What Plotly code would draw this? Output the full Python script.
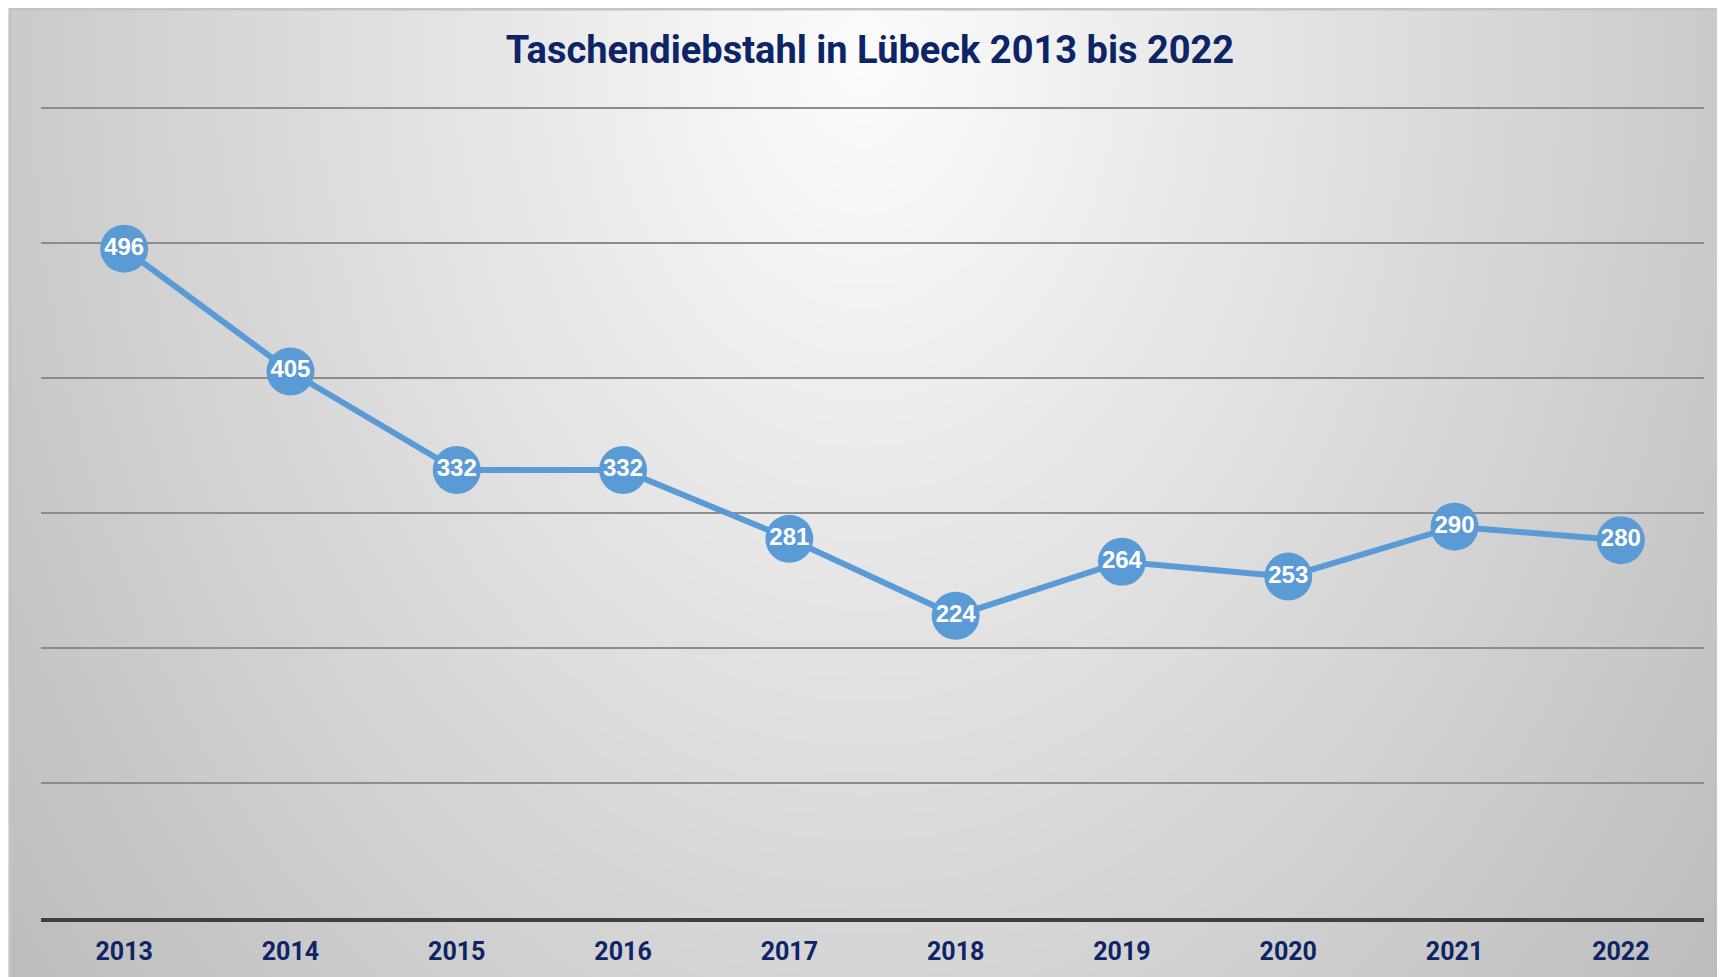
import base64
import struct
import zlib

import numpy as np
import plotly.graph_objects as go

# data
years = ["2013", "2014", "2015", "2016", "2017", "2018", "2019", "2020", "2021", "2022"]
cases = [496, 405, 332, 332, 281, 224, 264, 253, 290, 280]

W, H = 1725, 977
# page body adds an 8px offset, so margins are measured in figure pixels
ML, MR, MT, MB = 33, 29, 99, 67
PANEL_X0, PANEL_Y0 = 2, 1  # panel edge in figure pixels (left, top)

NAVY = "#0d2466"
BLUE = "#5b9bd5"
FONT = "Roboto, Liberation Sans, sans-serif"


def gradient_png(w, h):
    # radial grey gradient, lightest at top centre
    xs = np.linspace(0, W - PANEL_X0, w)
    ys = np.linspace(0, H - PANEL_Y0, h)
    X, Y = np.meshgrid(xs, ys)
    cx, cy = (W - PANEL_X0) / 2 - 8, 45
    r = np.sqrt(((X - cx) * 1.36) ** 2 + (Y - cy) ** 2)
    g = np.clip(253 - 0.043 * r, 180, 253).astype(np.uint8)
    raw = b"".join(b"\x00" + row.tobytes() for row in g)

    def chunk(tag, data):
        c = struct.pack(">I", len(data)) + tag + data
        return c + struct.pack(">I", zlib.crc32(tag + data) & 0xFFFFFFFF)

    png = b"\x89PNG\r\n\x1a\n"
    png += chunk(b"IHDR", struct.pack(">IIBBBBB", w, h, 8, 0, 0, 0, 0))
    png += chunk(b"IDAT", zlib.compress(raw, 9))
    png += chunk(b"IEND", b"")
    return "data:image/png;base64," + base64.b64encode(png).decode()


# paper coords of the panel
pw = W - ML - MR
ph = H - MT - MB
px0 = (PANEL_X0 - ML) / pw
px1 = (W - ML) / pw
py1 = (H - MB - PANEL_Y0) / ph
py0 = -MB / ph

fig = go.Figure()
fig.add_trace(go.Scatter(
    x=years, y=cases,
    mode="lines+markers+text",
    line=dict(color=BLUE, width=6),
    marker=dict(color=BLUE, size=48, line=dict(width=0)),
    text=[str(v) for v in cases],
    textposition="middle center",
    textfont=dict(family="Liberation Sans, Arial, sans-serif", size=24, color="white", weight="bold"),
    cliponaxis=False,
    hoverinfo="skip",
))

fig.update_layout(
    width=W, height=H,
    margin=dict(l=ML, r=MR, t=MT, b=MB, pad=0),
    paper_bgcolor="#f2f3f7",
    plot_bgcolor="rgba(0,0,0,0)",
    showlegend=False,
    title=dict(
        text="Taschendiebstahl in Lübeck 2013 bis 2022",
        x=862 / W, xanchor="center",
        y=1 - 42 / H, yanchor="middle",
        font=dict(family=FONT, size=38, color=NAVY, weight="bold"),
    ),
    xaxis=dict(
        type="category",
        range=[-0.5, len(years) - 0.5],
        showgrid=False,
        showline=True, linecolor="#404040", linewidth=4,
        ticks="outside", ticklen=8, tickcolor="rgba(0,0,0,0)",
        tickfont=dict(family=FONT, size=25, color=NAVY, weight="bold"),
        fixedrange=True,
    ),
    yaxis=dict(
        range=[0, 601],
        tickvals=[100, 200, 300, 400, 500, 600],
        showgrid=True, gridcolor="#8c8c8c", gridwidth=2,
        zeroline=False,
        showticklabels=False,
        fixedrange=True,
    ),
    images=[dict(
        source=gradient_png(343, 194),
        xref="paper", yref="paper",
        x=px0, y=py1, sizex=px1 - px0, sizey=py1 - py0,
        xanchor="left", yanchor="top",
        sizing="stretch", layer="below",
    )],
    shapes=[dict(
        type="rect", xref="paper", yref="paper",
        x0=px0, x1=px1 + 0.01, y0=py0 - 0.01, y1=py1,
        line=dict(color="#c4c4c4", width=3), layer="below",
    )],
)

fig.write_html("out.html")
